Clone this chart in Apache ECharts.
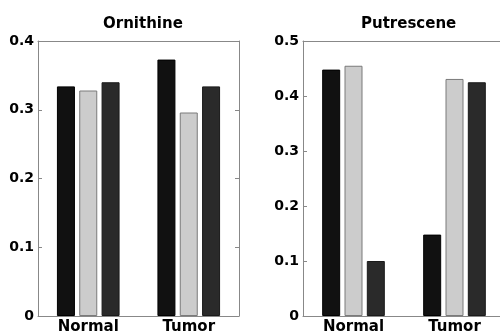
<!DOCTYPE html>
<html>
<head>
<meta charset="utf-8">
<script src="https://cdn.jsdelivr.net/npm/echarts@6/dist/echarts.min.js"></script>
<style>
    html, body { margin: 0; padding: 0; background: #fff; }
    #chart { width: 500px; height: 335px; }
</style>
</head>
<body>
<div id="chart"></div>
<script>
// data
const categories = ['Normal', 'Tumor']
const ornithineBlack = [0.334, 0.373]
const ornithineLight = [0.328, 0.296]
const ornithineDark = [0.340, 0.334]
const putresceneBlack = [0.448, 0.148]
const putresceneLight = [0.455, 0.431]
const putresceneDark = [0.100, 0.425]
const ornithineTicks = [0, 0.1, 0.2, 0.3, 0.4]
const putresceneTicks = [0, 0.1, 0.2, 0.3, 0.4, 0.5]

const fontFamily = 'DejaVu Sans'
const axisColor = '#888'

let chart = echarts.init(document.getElementById('chart'))

// 刻度文字
function tickLabel (v) {
    return v === 0 ? '0' : v.toFixed(1)
}

function mainX (gridIndex) {
    return {
        type: 'category',
        gridIndex: gridIndex,
        data: categories,
        axisLine: { lineStyle: { color: axisColor } },
        axisTick: { show: false },
        axisLabel: {
            color: '#000',
            fontFamily: fontFamily,
            fontWeight: 'bold',
            fontSize: 15,
            margin: 4
        }
    }
}

// 上边框 + 刻度
function topX (gridIndex) {
    return {
        type: 'category',
        gridIndex: gridIndex,
        position: 'top',
        data: categories,
        axisLine: { show: true, onZero: false, lineStyle: { color: axisColor } },
        axisTick: { alignWithLabel: true, inside: true, length: 4, lineStyle: { color: axisColor } },
        axisLabel: { show: false }
    }
}

function mainY (gridIndex, ticks) {
    return {
        type: 'value',
        gridIndex: gridIndex,
        min: ticks[0],
        max: ticks[ticks.length - 1],
        interval: 0.1,
        axisLine: { show: true, onZero: false, lineStyle: { color: axisColor } },
        axisTick: { show: true, inside: true, length: 4, lineStyle: { color: axisColor } },
        splitLine: { show: false },
        axisLabel: {
            color: '#000',
            fontFamily: fontFamily,
            fontWeight: 'bold',
            fontSize: 14,
            margin: 4,
            formatter: tickLabel
        }
    }
}

// 右边框 + 刻度
function rightY (gridIndex, ticks) {
    return {
        type: 'value',
        gridIndex: gridIndex,
        position: 'right',
        min: ticks[0],
        max: ticks[ticks.length - 1],
        interval: 0.1,
        axisLine: { show: true, onZero: false, lineStyle: { color: axisColor } },
        axisTick: { show: true, inside: true, length: 4, lineStyle: { color: axisColor } },
        splitLine: { show: false },
        axisLabel: { show: false }
    }
}

function bar (data, axisIndex, color, border) {
    return {
        type: 'bar',
        xAxisIndex: axisIndex,
        yAxisIndex: axisIndex,
        data: data,
        barWidth: 18,
        barGap: '24%',
        itemStyle: { color: color, borderColor: border, borderWidth: 1 },
        silent: true
    }
}

let option = {
    animation: false,
    backgroundColor: '#fff',
    title: [
        {
            text: 'Ornithine',
            left: 98,
            top: 12,
            textStyle: { fontFamily: fontFamily, fontWeight: 'bold', fontSize: 15, color: '#000' }
        },
        {
            text: 'Putrescene',
            left: 356,
            top: 12,
            textStyle: { fontFamily: fontFamily, fontWeight: 'bold', fontSize: 15, color: '#000' }
        }
    ],
    grid: [
        { left: 38, top: 41, width: 201, height: 275, outerBoundsMode: 'none' },
        { left: 303, top: 41, width: 202, height: 275, outerBoundsMode: 'none' }
    ],
    xAxis: [mainX(0), mainX(1), topX(0), topX(1)],
    yAxis: [mainY(0, ornithineTicks), mainY(1, putresceneTicks), rightY(0, ornithineTicks), rightY(1, putresceneTicks)],
    series: [
        bar(ornithineBlack, 0, '#111111', '#000000'),
        bar(ornithineLight, 0, '#cccccc', '#7a7a7a'),
        bar(ornithineDark, 0, '#2a2a2a', '#1a1a1a'),
        bar(putresceneBlack, 1, '#111111', '#000000'),
        bar(putresceneLight, 1, '#cccccc', '#7a7a7a'),
        bar(putresceneDark, 1, '#2a2a2a', '#1a1a1a')
    ]
}

chart.setOption(option)
</script>
</body>
</html>
